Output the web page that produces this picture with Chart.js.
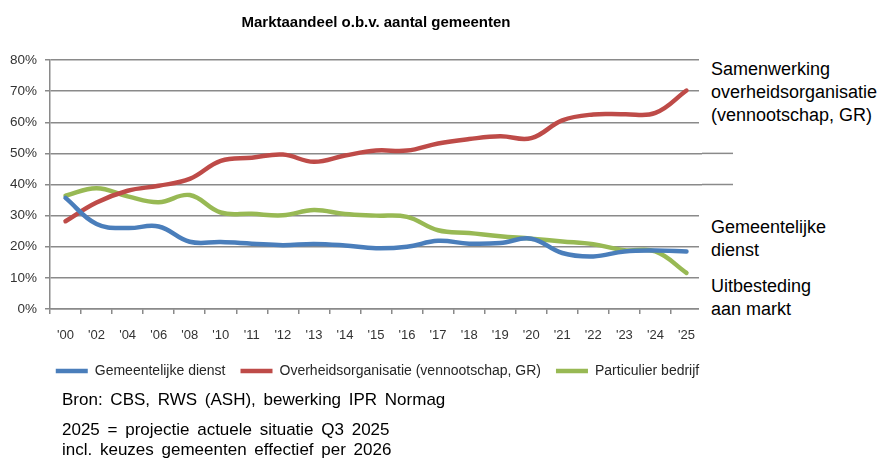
<!DOCTYPE html>
<html>
<head>
<meta charset="utf-8">
<script src="https://cdn.jsdelivr.net/npm/chart.js@4/dist/chart.umd.min.js"></script>
<style>
  body { margin: 0; background: #fff; }
  #wrap { position: relative; width: 886px; height: 462px; font-family: 'Liberation Sans', Arial, sans-serif; }
  .note { position: absolute; left: 699px; width: 175px; padding-left: 12px; background: #fff; font-size: 18px; line-height: 23px; color: #000; }
  .src { position: absolute; left: 62px; font-size: 17px; line-height: 20px; word-spacing: 3px; color: #000; white-space: nowrap; }
</style>
</head>
<body>
<div id="wrap">
  <canvas id="chart"></canvas>
  <div class="note" style="top:56px;padding-top:2px">Samenwerking<br>overheidsorganisatie<br>(vennootschap, GR)</div>
  <div class="note" style="top:212px;padding-top:4px">Gemeentelijke<br>dienst</div>
  <div class="note" style="top:271px;padding-top:4px">Uitbesteding<br>aan markt</div>
  <div class="src" style="top:390px">Bron: CBS, RWS (ASH), bewerking IPR Normag</div>
  <div class="src" style="top:420px">2025 = projectie actuele situatie Q3 2025<br>incl. keuzes gemeenten effectief per 2026</div>
</div>
<script>
'use strict';
const years = ["'00", "'02", "'04", "'06", "'08", "'10", "'11", "'12", "'13", "'14", "'15", "'16", "'17", "'18", "'19", "'20", "'21", "'22", "'23", "'24", "'25"];
const gemeentelijk = [35.7, 27.3, 26.0, 26.5, 21.6, 21.5, 21.0, 20.5, 20.9, 20.4, 19.5, 20.0, 21.9, 21.0, 21.2, 22.6, 18.0, 16.9, 18.5, 18.8, 18.5];
const overheid = [28.2, 34.2, 38.0, 39.6, 41.8, 47.6, 48.6, 49.6, 47.3, 49.3, 50.9, 50.9, 53.2, 54.6, 55.5, 54.9, 60.6, 62.5, 62.6, 63.0, 70.2];
const particulier = [36.4, 38.8, 36.2, 34.3, 36.6, 31.0, 30.6, 30.1, 31.8, 30.5, 30.0, 29.6, 25.3, 24.4, 23.4, 22.6, 21.7, 20.8, 18.9, 18.5, 11.6];
const yTicks = [0, 10, 20, 30, 40, 50, 60, 70, 80];

const FONT = "'Liberation Sans', Arial, sans-serif";
const GRID = '#8a8a8a';

// gridlines in the original run on a bit past the last category
const gridTail = {
  id: 'gridTail',
  beforeDatasetsDraw(chart) {
    const ctx = chart.ctx;
    const y = chart.scales.y;
    const right = chart.chartArea.right;
    ctx.save();
    ctx.strokeStyle = GRID;
    ctx.lineWidth = 1.5;
    y.ticks.forEach(function (t) {
      const py = y.getPixelForValue(t.value);
      ctx.beginPath();
      ctx.moveTo(right, py);
      ctx.lineTo(right + 31, py);
      ctx.stroke();
    });
    ctx.restore();
  }
};

function line(label, data, color) {
  return {
    label: label,
    data: data,
    borderColor: color,
    backgroundColor: color,
    borderWidth: 4.5,
    borderCapStyle: 'round',
    pointRadius: 0,
    tension: 0.4,
    fill: false
  };
}

const ctx = document.getElementById('chart').getContext('2d');
const chart = new Chart(ctx, {
  type: 'line',
  data: {
    labels: years,
    datasets: [
      line('Gemeentelijke dienst', gemeentelijk, '#4a7ebb'),
      line('Overheidsorganisatie (vennootschap, GR)', overheid, '#be4b48'),
      line('Particulier bedrijf', particulier, '#98b954')
    ]
  },
  plugins: [gridTail],
  options: {
    responsive: true,
    maintainAspectRatio: false,
    animation: false,
    layout: { padding: { left: 0, right: 131, top: 0, bottom: 74 } },
    plugins: {
      title: {
        display: true,
        fullSize: false,
        text: 'Marktaandeel o.b.v. aantal gemeenten',
        color: '#000',
        font: { family: FONT, size: 15, weight: 'bold' },
        padding: { top: 14, bottom: 28 }
      },
      legend: {
        position: 'bottom',
        labels: {
          usePointStyle: true,
          pointStyle: 'line',
          pointStyleWidth: 32,
          padding: 15,
          color: '#262626',
          font: { family: FONT, size: 14 }
        }
      },
      tooltip: { enabled: false }
    },
    scales: {
      x: {
        offset: true,
        grid: { drawOnChartArea: false, offset: true, tickLength: 5, color: GRID, lineWidth: 1.5 },
        border: { color: GRID, width: 1.5 },
        ticks: { color: '#333', font: { family: FONT, size: 13 }, padding: 14, maxRotation: 0, autoSkip: false },
        afterFit(s) { s.height = 40; }
      },
      y: {
        min: 0,
        max: 80,
        afterBuildTicks(s) { s.ticks = yTicks.map(v => ({ value: v })); },
        grid: { color: GRID, lineWidth: 1.5, tickLength: 5 },
        border: { color: GRID, width: 1.5 },
        ticks: { color: '#333', font: { family: FONT, size: 13.5 }, padding: 8, callback: v => v + '%' },
        afterFit(s) { s.width = 50; }
      },
      y2: {
        position: 'right',
        grid: { display: false },
        border: { display: false },
        ticks: { display: false },
        afterFit(s) { s.width = 53; }
      }
    }
  }
});
</script>
</body>
</html>
